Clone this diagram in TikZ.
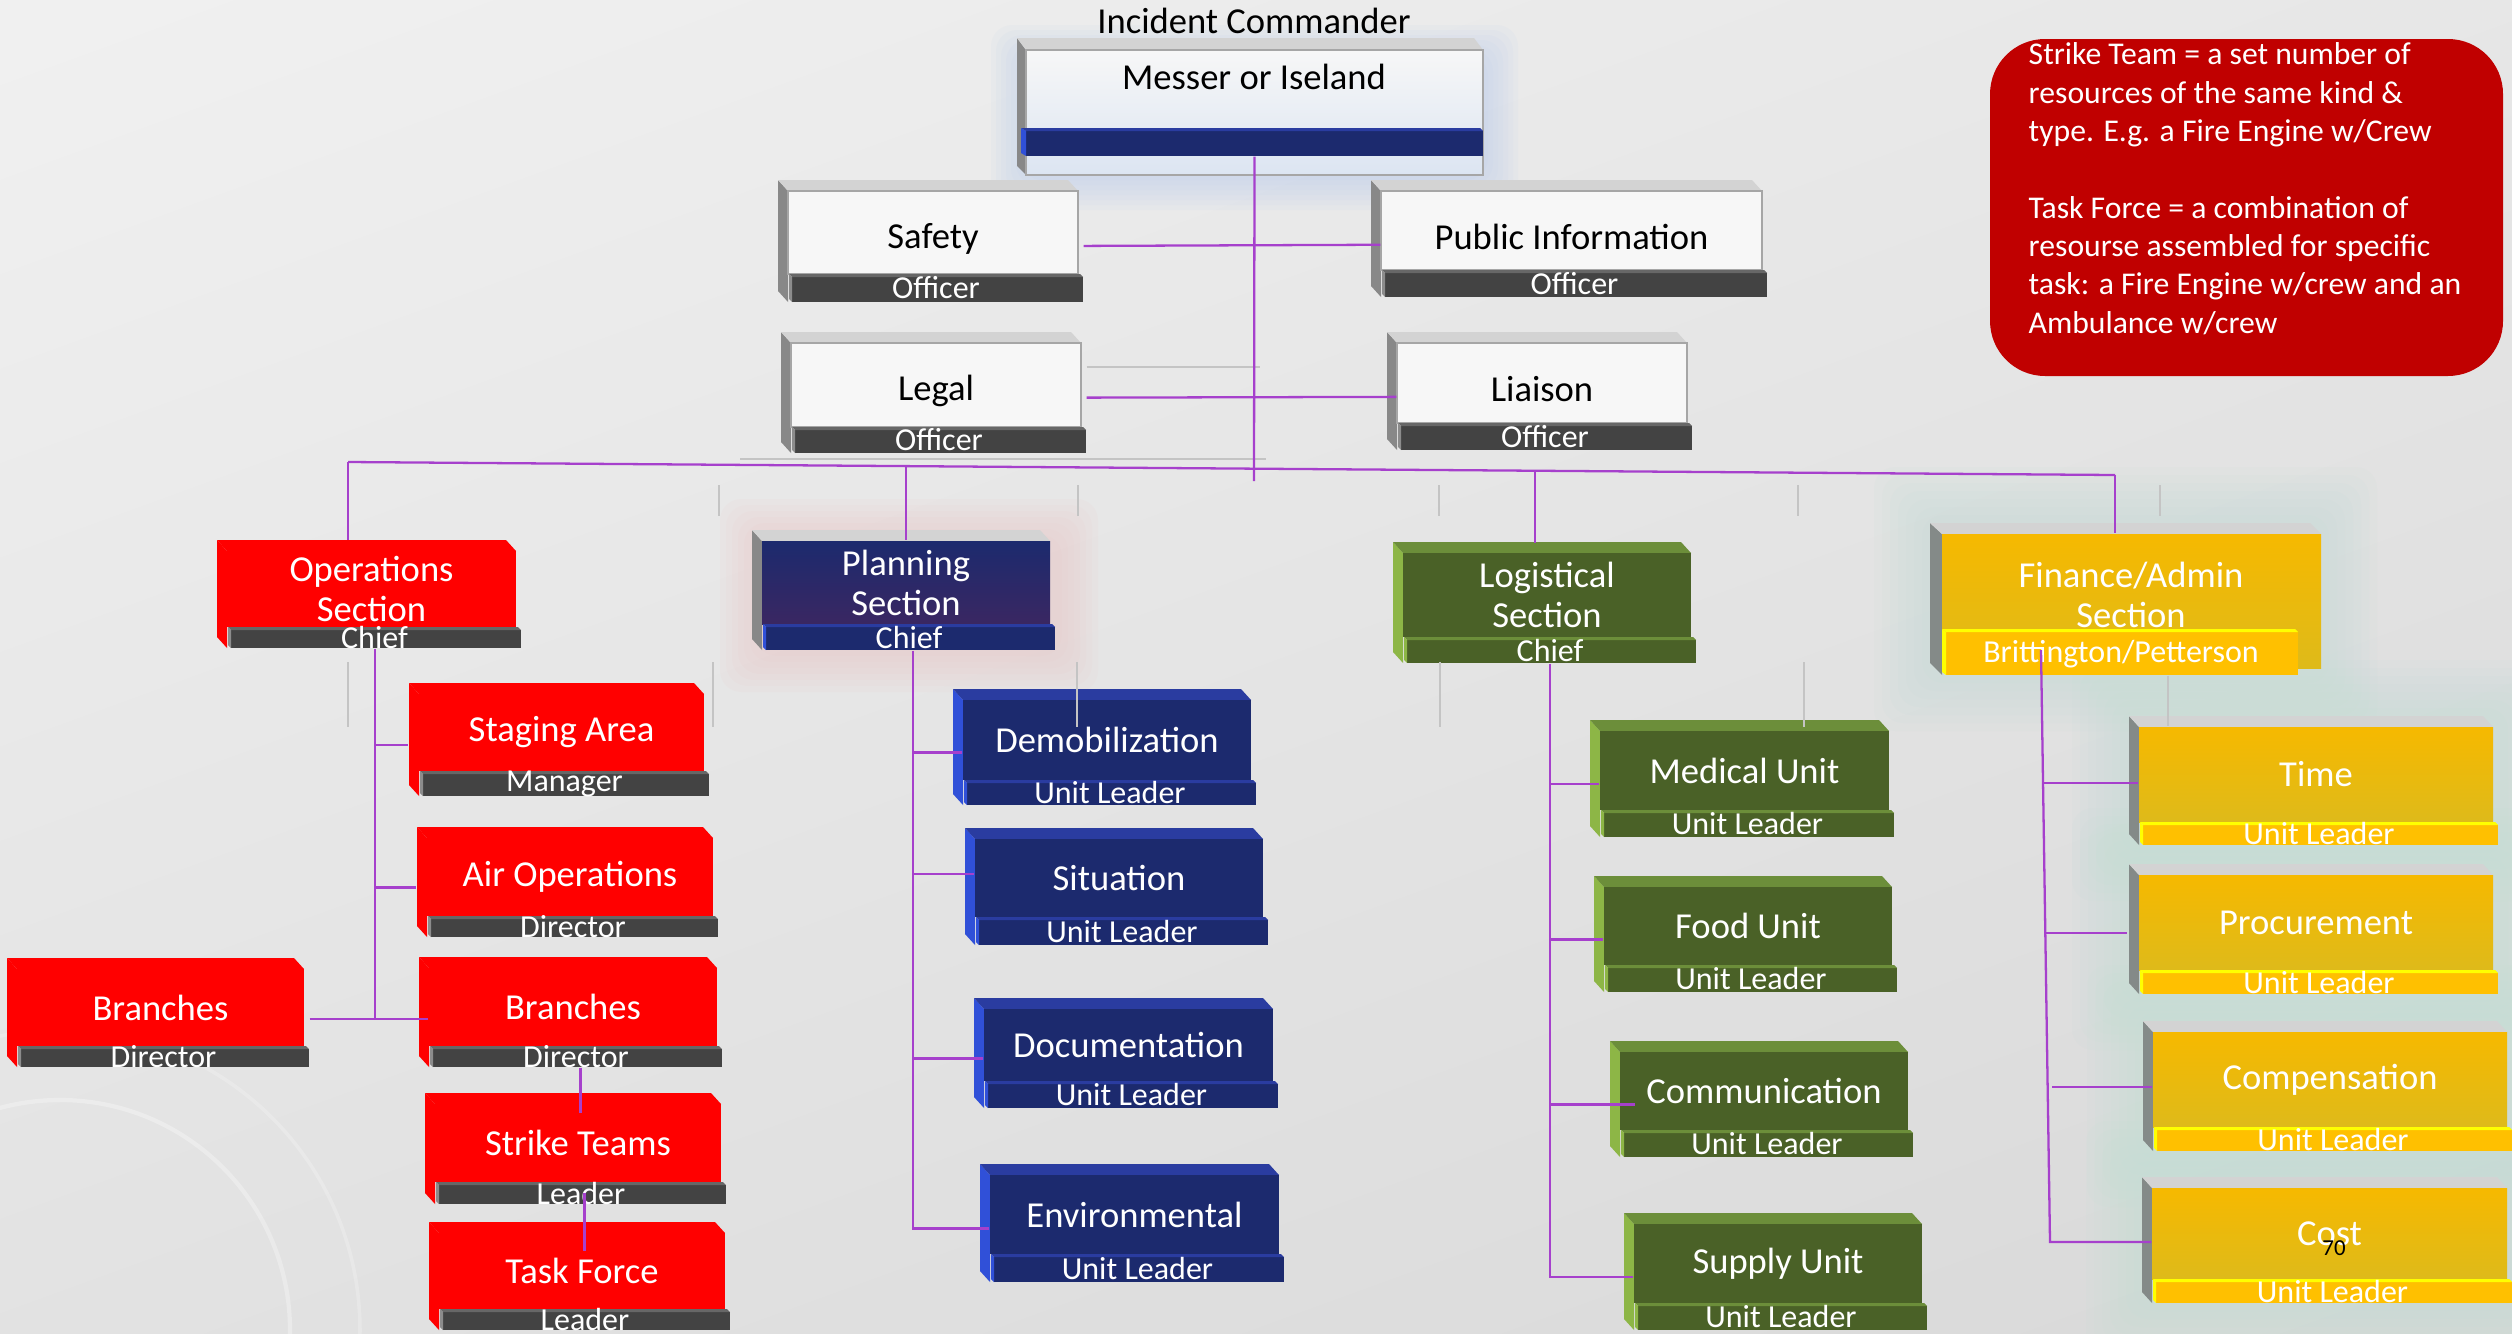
\documentclass[tikz,border=0pt]{standalone}
\usepackage{fontspec}
\setmainfont{Carlito}
\usetikzlibrary{fit,calc}

\definecolor{bgA}{HTML}{F0F0F0}
\definecolor{bgB}{HTML}{D9D9D9}
\definecolor{connp}{HTML}{A640CC}
\definecolor{faintg}{HTML}{C4C4C4}
\definecolor{edgeG}{HTML}{A6A6A6}
\definecolor{wSide}{HTML}{888888}
\definecolor{wTop}{HTML}{D3D3D3}
\definecolor{wFace}{HTML}{F7F7F7}
\definecolor{barDark}{HTML}{434343}
\definecolor{barDarkTop}{HTML}{676767}
\definecolor{barDarkSide}{HTML}{8C8C8C}
\definecolor{redF}{HTML}{FF0000}
\definecolor{navyF}{HTML}{1C2A6E}
\definecolor{navyTop}{HTML}{2A3CA0}
\definecolor{navySide}{HTML}{3050D8}
\definecolor{planB}{HTML}{3A2762}
\definecolor{greenF}{HTML}{4A6127}
\definecolor{greenTop}{HTML}{6C8E3A}
\definecolor{greenSide}{HTML}{8DB646}
\definecolor{goldA}{HTML}{F6B900}
\definecolor{goldB}{HTML}{DEBA1A}
\definecolor{goldBar}{HTML}{FFC000}
\definecolor{goldEdge}{HTML}{FFFF00}
\definecolor{goldSide}{HTML}{848A88}
\definecolor{icFaceB}{HTML}{DCE5F2}
\definecolor{icGlow}{HTML}{B9CCEA}
\definecolor{planGlow}{HTML}{EFC4C4}
\definecolor{finGlow}{HTML}{C2DCD5}
\definecolor{noteRed}{HTML}{C00000}

\tikzset{
  conn/.style={draw=connp, line width=0.65pt},
  faint/.style={draw=faintg, line width=0.5pt},
  ttl/.style={font=\fontsize{10.4}{11.4}\selectfont, align=center, inner sep=0pt},
  subttl/.style={font=\fontsize{9.1}{10}\selectfont, text=white, inner sep=0pt},
  % white scheme
  wside/.style={fill=wSide},
  wtop/.style={fill=wTop},
  wface/.style={fill=wFace, draw=edgeG, line width=0.3pt},
  wbar/.style={fill=barDark},
  wbartop/.style={fill=barDarkTop},
  wbarside/.style={fill=barDarkSide},
  wtext/.style={text=black, yshift=-0.06cm},
  % red scheme
  rside/.style={fill=redF},
  rtop/.style={fill=redF},
  rface/.style={fill=redF},
  rbar/.style={fill=barDark},
  rbartop/.style={fill=barDarkTop},
  rbarside/.style={fill=barDarkSide},
  rtext/.style={text=white},
  % planning scheme
  pside/.style={fill=wSide},
  ptop/.style={fill=wTop},
  pface/.style={top color=navyF, bottom color=planB},
  pbar/.style={fill=navyF},
  pbartop/.style={fill=navyTop},
  pbarside/.style={fill=navySide},
  ptext/.style={text=white},
  % navy scheme
  nside/.style={fill=navySide},
  ntop/.style={fill=navyTop},
  nface/.style={fill=navyF},
  nbar/.style={fill=navyF},
  nbartop/.style={fill=navyTop},
  nbarside/.style={fill=navySide},
  ntext/.style={text=white},
  % green scheme
  gside/.style={fill=greenSide},
  gtop/.style={fill=greenTop},
  gface/.style={fill=greenF},
  gbar/.style={fill=greenF},
  gbartop/.style={fill=greenTop},
  gbarside/.style={fill=greenSide},
  gtext/.style={text=white},
  % gold scheme
  yside/.style={fill=goldSide},
  ytop/.style={fill=wTop},
  yface/.style={top color=goldA, bottom color=goldB},
  ybar/.style={fill=goldBar},
  ybartop/.style={fill=goldEdge},
  ybarside/.style={fill=goldEdge},
  ytext/.style={text=white},
}

% #1 name #2 scheme #3 x0 #4 y0 #5 x1 #6 y1(bar top) #7 y2(bar bottom) #8 title #9 subtitle
\newcommand\orgbox[9]{%
  \fill[#2side] (#3-10,#4-11) -- (#3,#4) -- (#3,#7) -- (#3-10,#7-11) -- cycle;
  \fill[#2top] (#3-10,#4-11) -- (#5-10,#4-11) -- (#5,#4) -- (#3,#4) -- cycle;
  \path[#2face] (#3,#4) rectangle (#5,#6);
  \fill[#2bar] (#3+4,#6+3) rectangle (#5+5,#7);
  \fill[#2bartop] (#3+1,#6) -- (#5+2,#6) -- (#5+5,#6+3) -- (#3+4,#6+3) -- cycle;
  \fill[#2barside] (#3+1,#6) -- (#3+4,#6+3) -- (#3+4,#7) -- (#3+1,#7-3) -- cycle;
  \node[fit={(#3,#4)(#5+5,#7)}, inner sep=0pt] (#1) {};
  \node[ttl, #2text] (#1-t) at ({(#3+#5)/2},{(#4+#6)/2}) {#8};
  \node[subttl] (#1-s) at ({(#3+#5)/2+3},{(#6+#7)/2}) {#9};
}

\newcommand\glowbox[6]{% x0 y0 x1 y1 color step
  \foreach \gi in {1,...,7}{%
    \fill[#5, opacity=0.09, rounded corners=6pt] (#1-\gi*#6,#2-\gi*#6) rectangle (#3+\gi*#6,#4+\gi*#6);}%
}

\begin{document}
\begin{tikzpicture}[x=0.01cm,y=-0.01cm]
\useasboundingbox (0,0) rectangle (2512,1333);
\clip (0,0) rectangle (2512,1333);
\shade[top color=bgA, bottom color=bgB, shading angle=20] (-200,-200) rectangle (2712,1533);

% faint watermark arcs
\draw[white, opacity=0.3, line width=1.2pt] (60,1330) circle (230);
\draw[white, opacity=0.22, line width=1pt] (60,1330) circle (300);

% glows
\glowbox{1026}{60}{1483}{175}{icGlow}{5}
\glowbox{762}{541}{1056}{650}{planGlow}{6}
\glowbox{1930}{523}{2321}{675}{finGlow}{8}
\glowbox{2128}{716}{2500}{845}{finGlow}{8}
\glowbox{2128}{864}{2500}{994}{finGlow}{8}
\glowbox{2143}{1021}{2512}{1151}{finGlow}{8}
\glowbox{2142}{1177}{2512}{1303}{finGlow}{8}

% Incident Commander
\fill[wside] (1017,38) -- (1026,50) -- (1026,175) -- (1017,166) -- cycle;
\fill[wtop] (1017,38) -- (1474,38) -- (1483,50) -- (1026,50) -- cycle;
\draw[edgeG, line width=0.3pt, top color=wFace, bottom color=icFaceB] (1026,50) rectangle (1483,175);
\fill[navyF] (1026,131) rectangle (1483,156);
\fill[navyTop] (1021,128) -- (1480,128) -- (1483,131) -- (1026,131) -- cycle;
\fill[navySide] (1021,128) -- (1026,131) -- (1026,156) -- (1021,153) -- cycle;
\node[fit={(1026,50)(1483,175)}, inner sep=0pt] (ic) {};
\node[fit={(1026,131)(1483,156)}, inner sep=0pt] (icbar) {};
\node[ttl] (ic-t) at (1254,77) {Messer or Iseland};
\node[ttl] (ic-h) at (1254,21) {Incident Commander};

% boxes
\orgbox{safety}{w}{788}{191}{1078}{274}{302}{Safety}{Officer}
\orgbox{pubinfo}{w}{1381}{191}{1762}{270}{297}{Public Information}{Officer}
\orgbox{legal}{w}{791}{343}{1081}{427}{453}{Legal}{Officer}
\orgbox{liaison}{w}{1397}{343}{1687}{423}{450}{Liaison}{Officer}
\orgbox{ops}{r}{227}{551}{516}{627}{648}{Operations\\Section}{Chief}
\orgbox{staging}{r}{419}{694}{704}{771}{796}{Staging Area}{Manager}
\orgbox{airops}{r}{427}{838}{713}{916}{937}{Air Operations}{Director}
\orgbox{brL}{r}{17}{969}{304}{1046}{1067}{Branches}{Director}
\orgbox{brR}{r}{429}{968}{717}{1046}{1067}{Branches}{Director}
\orgbox{strike}{r}{435}{1104}{721}{1182}{1204}{Strike Teams}{Leader}
\orgbox{task}{r}{439}{1233}{725}{1309}{1330}{Task Force}{Leader}
\orgbox{plan}{p}{762}{541}{1050}{624}{650}{Planning\\Section}{Chief}
\orgbox{demob}{n}{963}{700}{1251}{780}{805}{Demobilization}{Unit Leader}
\orgbox{sit}{n}{975}{839}{1263}{917}{945}{Situation}{Unit Leader}
\orgbox{doc}{n}{984}{1009}{1273}{1081}{1108}{Documentation}{Unit Leader}
\orgbox{env}{n}{990}{1175}{1279}{1254}{1282}{Environmental}{Unit Leader}
\orgbox{log}{g}{1403}{553}{1691}{637}{663}{Logistical\\Section}{Chief}
\orgbox{med}{g}{1600}{731}{1889}{810}{837}{Medical Unit}{Unit Leader}
\orgbox{food}{g}{1604}{887}{1892}{965}{992}{Food Unit}{Unit Leader}
\orgbox{comm}{g}{1620}{1052}{1908}{1130}{1157}{Communication}{Unit Leader}
\orgbox{supply}{g}{1634}{1224}{1922}{1303}{1330}{Supply Unit}{Unit Leader}
\orgbox{time}{y}{2139}{727}{2493}{822}{845}{Time}{Unit Leader}
\orgbox{proc}{y}{2139}{875}{2493}{970}{994}{Procurement}{Unit Leader}
\orgbox{comp}{y}{2153}{1032}{2507}{1127}{1151}{Compensation}{Unit Leader}
\orgbox{cost}{y}{2152}{1188}{2507}{1279}{1303}{Cost}{Unit Leader}

% Finance section
\fill[yside] (1930,523) -- (1942,534) -- (1942,675) -- (1930,663) -- cycle;
\fill[ytop] (1930,523) -- (2310,523) -- (2321,534) -- (1942,534) -- cycle;
\path[yface] (1942,534) rectangle (2321,668);
\fill[ybar] (1946,632) rectangle (2298,675);
\fill[ybartop] (1942,629) -- (2295,629) -- (2298,632) -- (1946,632) -- cycle;
\fill[ybarside] (1942,629) -- (1946,632) -- (1946,675) -- (1942,672) -- cycle;
\node[fit={(1942,534)(2321,675)}, inner sep=0pt] (fin) {};
\node[ttl, text=white] (fin-t) at (2131,595) {Finance/Admin\\Section};
\node[subttl] (fin-s) at (2121,654) {Brittington/Petterson};

% note box
\fill[noteRed, rounded corners=0.55cm] (1990,39) rectangle (2503,376);
\node[anchor=north west, align=left, inner sep=0pt, text=white, font=\fontsize{9}{10.9}\selectfont] (note) at (2028,42)
 {Strike Team = a set number of\\resources of the same kind \&\\type. E.g. a Fire Engine w/Crew\\[10.9pt]Task Force = a combination of\\resourse assembled for specific\\task: a Fire Engine w/crew and an\\Ambulance w/crew};

\node[font=\fontsize{6.5}{7}\selectfont] (pagenum) at (2334,1248) {70};

% faint remnants
\foreach \fx in {348,713,1077,1440,1804}{\draw[faint] (\fx,662) -- (\fx,727);}
\foreach \fx in {719,1078,1439,1798,2160}{\draw[faint] (\fx,485) -- (\fx,516);}
\draw[faint] (fin.south -| 2168,0) -- (time.north -| 2168,0);
\draw[faint] (legal.east |- 0,367) -- (1260,367);
\draw[faint] (740,459) -- (1266,459);

% connectors
\coordinate (icbus) at (1254,481);
\draw[conn] (icbar.south) -- (icbus);
\draw[conn] (safety) -- (pubinfo);
\draw[conn] (legal) -- (liaison);
\coordinate (busL) at (348,462);
\coordinate (busR) at (2115,475);
\coordinate (busP) at (906,466);
\coordinate (busG) at (1535,471);
\draw[conn] (busL) -- (busR);
\draw[conn, shorten >=0.1cm] (busL) -- (busL |- ops.north);
\draw[conn] (busP) -- (busP |- plan.north);
\draw[conn, shorten >=0.09cm] (busG) -- (busG |- log.north);
\draw[conn] (busR) -- (busR |- fin.north);

% operations
\coordinate (opsEnd) at (375,1019);
\draw[conn] (ops.south -| opsEnd) -- (opsEnd);
\draw[conn, shorten >=0.1cm] (opsEnd |- staging.west) -- (staging.west);
\draw[conn, shorten >=0.1cm] (opsEnd |- airops.west) -- (airops.west);
\draw[conn] (brL.east |- opsEnd) -- (brR.west |- opsEnd);
\draw[conn, shorten >=-0.1cm] (strike.north |- brR.south) -- (strike.north);
\draw[conn, shorten <=-0.12cm, shorten >=-0.19cm] (task.north |- strike.south) -- (task.north);

% planning
\coordinate (ptx) at (913,700);
\coordinate (sitIn) at ([yshift=0.18cm]sit.west);
\draw[conn] (plan.south -| ptx) |- (env.west);
\draw[conn] (ptx |- demob.west) -- (demob.west);
\draw[conn] (ptx |- sitIn) -- (sitIn);
\draw[conn] (ptx |- doc.west) -- (doc.west);

% logistics
\coordinate (ltx) at (1550,700);
\draw[conn] (log.south -| ltx) |- (supply.west);
\draw[conn] (ltx |- med.west) -- (med.west);
\draw[conn] (ltx |- food.west) -- (food.west);
\draw[conn, shorten >=-0.16cm] (ltx |- comm.west) -- (comm.west);

% finance
\coordinate (ftop) at (2041,650);
\coordinate (fbot) at (2050,1242);
\coordinate (fT) at (2043,783);
\coordinate (fP) at (2045,933);
\coordinate (fC) at (2052,1087);
\draw[conn] (ftop) -- (fbot) -- (fbot -| cost.west);
\draw[conn] (fT) -- (fT -| time.west);
\draw[conn, shorten >=0.11cm] (fP) -- (fP -| proc.west);
\draw[conn] (fC) -- (fC -| comp.west);
\end{tikzpicture}
\end{document}
